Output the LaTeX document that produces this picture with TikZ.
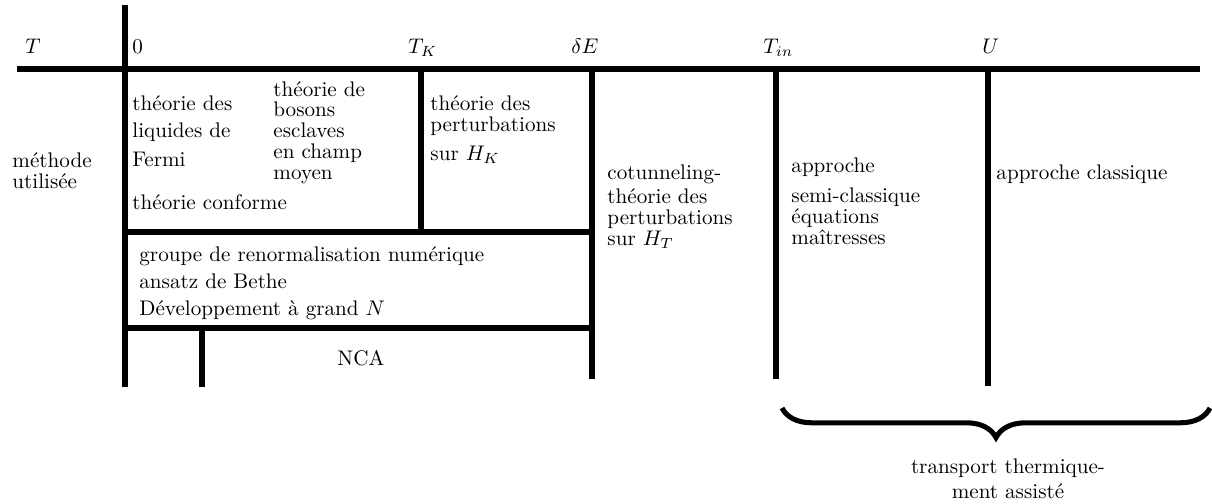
\documentclass[tikz,border=0pt]{standalone}
\usepackage{fontspec}
\usepackage{amsmath}
\usetikzlibrary{decorations.pathreplacing}

\begin{document}
\begin{tikzpicture}[%
    x=0.4733pt, y=-0.4733pt, % Pixelraster des Originals
    rule/.style={draw, line width=2.8pt},
    txt/.style={anchor=base west, inner sep=0pt, align=left,
                font=\fontsize{10}{9.8}\selectfont},
    bracebox/.style={draw, line width=2.4pt,
                decorate, decoration={brace, mirror, amplitude=14pt}}
    ]
        \useasboundingbox (0,0) rectangle (1212,503);

        % Stuetzpunkte
        \coordinate (L)  at (17,69);
        \coordinate (R)  at (1200,69);
        \coordinate (A0) at (125,5);
        \coordinate (B0) at (125,387);
        \coordinate (AK) at (421,69);
        \coordinate (BK) at (421,232);
        \coordinate (AE) at (592,69);
        \coordinate (BE) at (592,379);
        \coordinate (AI) at (776,69);
        \coordinate (BI) at (776,379);
        \coordinate (AU) at (988,69);
        \coordinate (BU) at (988,386);
        \coordinate (M1) at (125,232);
        \coordinate (M2) at (592,232);
        \coordinate (N1) at (125,328);
        \coordinate (N2) at (592,328);
        \coordinate (C1) at (202,328);
        \coordinate (C2) at (202,387);
        \coordinate (G1) at (782,408);
        \coordinate (G2) at (1210,408);

        % Linien
        \draw[rule] (L) -- (R);
        \draw[rule] (A0) -- (B0);
        \draw[rule] (AK) -- (BK);
        \draw[rule] (AE) -- (BE);
        \draw[rule] (AI) -- (BI);
        \draw[rule] (AU) -- (BU);
        \draw[rule] (M1) -- (M2);
        \draw[rule] (N1) -- (N2);
        \draw[rule] (C1) -- (C2);
        \draw[bracebox] (G1) -- (G2);

        % Achse
        \node[txt] (T)   at (25,53)  {$T$};
        \node[txt] (zero) at (132,53) {$0$};
        \node[txt] (TK)  at (408,53) {$T_K$};
        \node[txt] (dE)  at (571,53) {$\delta E$};
        \node[txt] (Tin) at (763,53) {$T_{in}$};
        \node[txt] (U)   at (982,53) {$U$};

        % Methoden (Anker: Grundlinie der letzten Zeile)
        \node[txt] (methode)   at (12,188)    {méthode\\utilisée};
        \node[txt] (fermi)     at (132,166.7) {théorie des\\[3.2pt]liquides de\\[3.8pt]Fermi};
        \node[txt] (bosons)    at (273,179)   {théorie de\\bosons\\esclaves\\en champ\\moyen};
        \node[txt] (conforme)  at (132,209.3) {théorie conforme};
        \node[txt] (pertK)     at (430,160)   {théorie des\\perturbations\\[3.6pt]sur $H_K$};
        \node[txt] (cotun)     at (607,245)   {cotunneling-\\[1.6pt]théorie des\\perturbations\\sur $H_T$};
        \node[txt] (semi)      at (791,244.3) {approche\\[4.4pt]semi-classique\\équations\\maîtresses};
        \node[txt] (classique) at (996,179.3) {approche classique};
        \node[txt] (nrg)       at (139,315)   {groupe de renormalisation numérique\\[3pt]ansatz de Bethe\\[2.8pt]Développement à grand $N$};
        \node[txt] (nca)       at (337,365)   {NCA};
        \node[txt, anchor=base, align=center] (transport) at (1008,498)
            {transport thermique-\\[2pt]ment assisté};
\end{tikzpicture}
\end{document}
